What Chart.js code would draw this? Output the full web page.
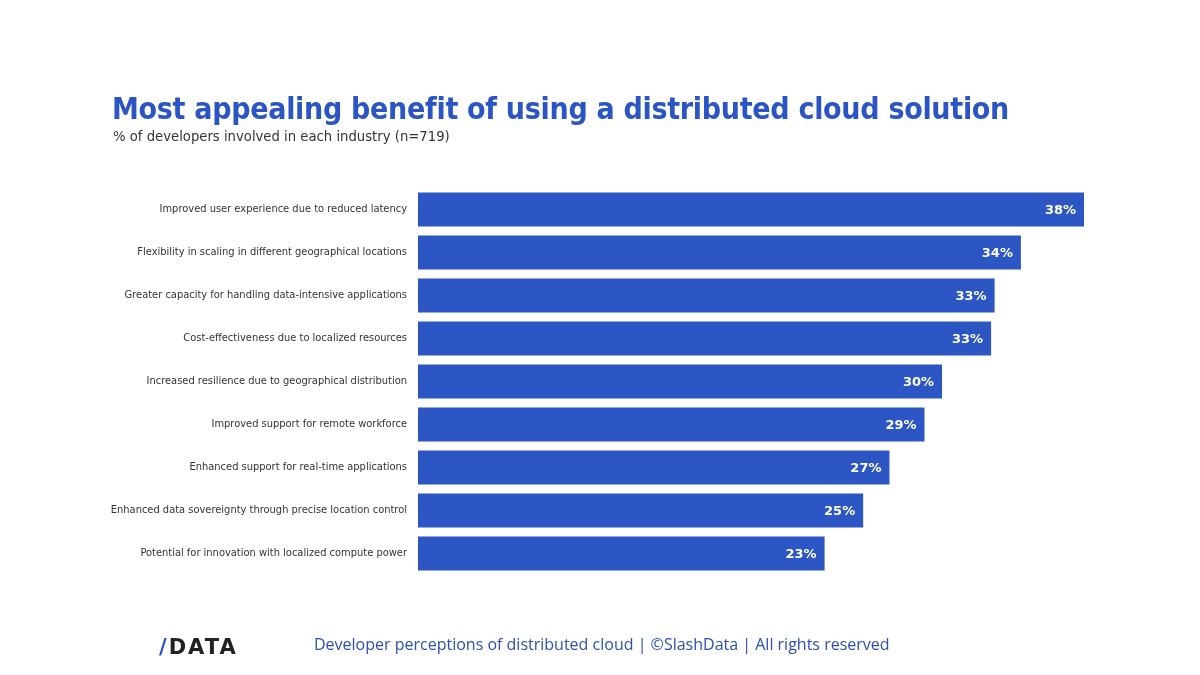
<!DOCTYPE html>
<html>
<head>
<meta charset="utf-8">
<script src="https://cdn.jsdelivr.net/npm/chart.js@4"></script>
<style>
  html, body { margin: 0; padding: 0; background: #fff; }
  #wrap { position: relative; width: 1200px; height: 675px; overflow: hidden; }
  #chart { position: absolute; left: 0; top: 0; }
  .title { position: absolute; left: 112px; top: 91px; font: bold 30px "DejaVu Sans Condensed", "DejaVu Sans", Verdana, sans-serif; color: #2b55c4; letter-spacing: -0.3px; white-space: nowrap; }
  .subtitle { position: absolute; left: 113px; top: 127px; font: 14.7px "DejaVu Sans Condensed", "DejaVu Sans", Verdana, sans-serif; color: #333; white-space: nowrap; }
  .footer { position: absolute; left: 314px; top: 633px; font: 16px "Open Sans", sans-serif; color: #2b4fb5; white-space: nowrap; }
  .logo { position: absolute; left: 159px; top: 635px; font: bold 21px "DejaVu Sans", sans-serif; color: #222; letter-spacing: 2px; }
  .logo span { color: #2b55c4; }
</style>
</head>
<body>
<div id="wrap">
  <canvas id="chart" width="1200" height="675"></canvas>
  <div class="title">Most appealing benefit of using a distributed cloud solution</div>
  <div class="subtitle">% of developers involved in each industry (n=719)</div>
  <div class="logo"><span>/</span>DATA</div>
  <div class="footer">Developer perceptions of distributed cloud | ©SlashData | All rights reserved</div>
</div>
<script>
const categories = [
  'Improved user experience due to reduced latency',
  'Flexibility in scaling in different geographical locations',
  'Greater capacity for handling data-intensive applications',
  'Cost-effectiveness due to localized resources',
  'Increased resilience due to geographical distribution',
  'Improved support for remote workforce',
  'Enhanced support for real-time applications',
  'Enhanced data sovereignty through precise location control',
  'Potential for innovation with localized compute power'
];
const shares = [38, 34.4, 32.9, 32.7, 29.9, 28.9, 26.9, 25.4, 23.2];

const barColor = '#2b56c4';

// white % labels inside the bar end
const valueLabels = {
  id: 'valueLabels',
  afterDatasetsDraw(chart) {
    const ctx = chart.ctx;
    const meta = chart.getDatasetMeta(0);
    ctx.save();
    ctx.font = 'bold 13px "DejaVu Sans", Verdana, sans-serif';
    ctx.fillStyle = '#fff';
    ctx.textAlign = 'right';
    ctx.textBaseline = 'middle';
    meta.data.forEach((bar, i) => {
      ctx.fillText(Math.round(shares[i]) + '%', bar.x - 8, bar.y + 1);
    });
    ctx.restore();
  }
};

const ctx = document.getElementById('chart').getContext('2d');
new Chart(ctx, {
  type: 'bar',
  data: {
    labels: categories,
    datasets: [{
      data: shares,
      backgroundColor: barColor,
      borderWidth: 0,
      barPercentage: 0.79,
      categoryPercentage: 1
    }]
  },
  options: {
    indexAxis: 'y',
    responsive: false,
    animation: false,
    layout: { padding: { top: 188, bottom: 100, left: 0, right: 116 } },
    plugins: {
      legend: { display: false },
      tooltip: { enabled: false }
    },
    scales: {
      x: {
        min: 0,
        max: 38,
        display: false,
        grid: { display: false }
      },
      y: {
        grid: { display: false },
        border: { display: false },
        ticks: {
          color: '#333',
          padding: 3,
          font: { family: '"DejaVu Sans Condensed", "DejaVu Sans", sans-serif', size: 11 }
        },
        afterFit(scale) { scale.width = 418; }
      }
    }
  },
  plugins: [valueLabels]
});
</script>
</body>
</html>
